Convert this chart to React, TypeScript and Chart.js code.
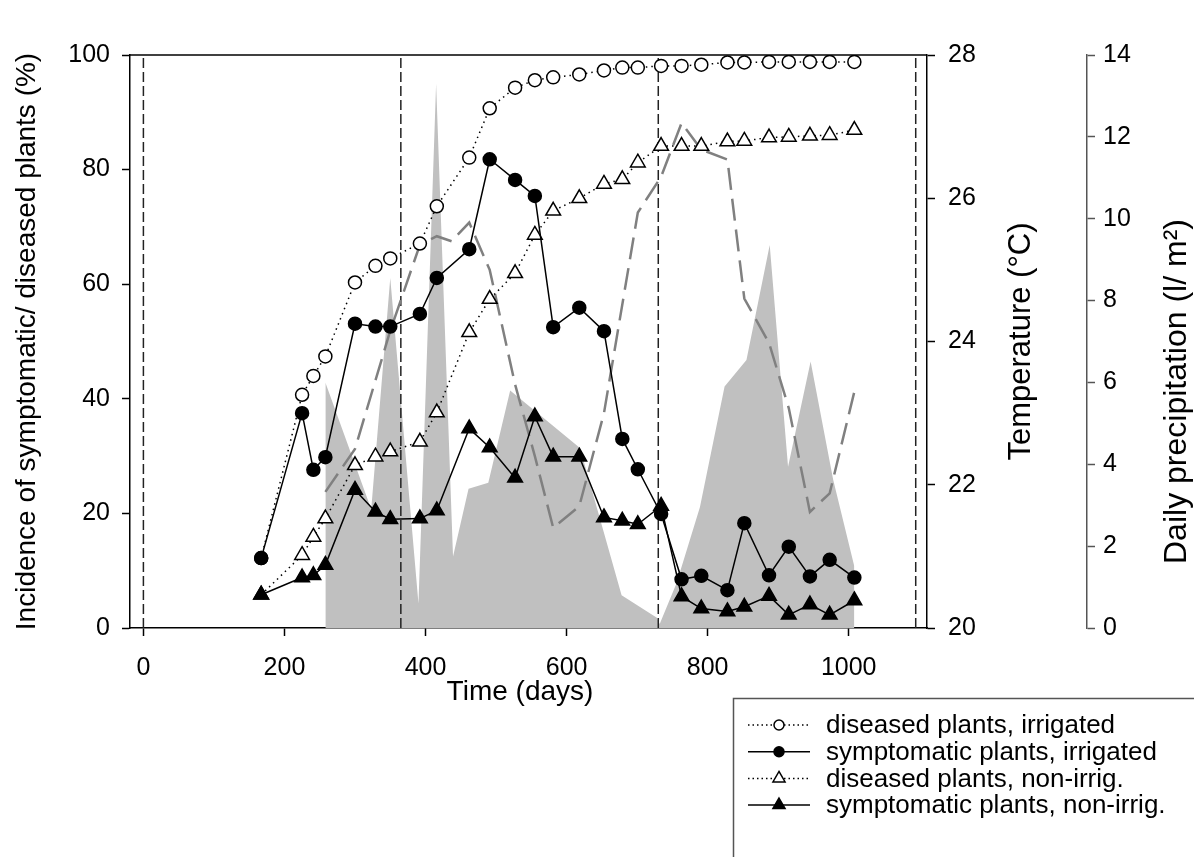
import React, { useEffect, useRef } from 'react';
import { Chart, registerables } from 'chart.js';

Chart.register(...registerables);

const FONT = '"Liberation Sans", Arial, Helvetica, sans-serif';

// ---- data ----
const sampleDays = [167, 225, 241, 258, 300, 329, 350, 392, 416, 462, 491, 527, 555, 581, 618, 653, 679, 701, 734, 763, 791, 828, 852, 887, 915, 945, 973, 1008];
const diseasedIrrigated = [12.2, 40.7, 44.0, 47.4, 60.3, 63.2, 64.5, 67.1, 73.6, 82.1, 90.7, 94.3, 95.6, 96.1, 96.6, 97.3, 97.8, 97.8, 98.1, 98.1, 98.3, 98.7, 98.7, 98.8, 98.8, 98.8, 98.8, 98.8];
const symptomaticIrrigated = [12.2, 37.5, 27.6, 29.8, 53.1, 52.6, 52.6, 54.8, 61.1, 66.1, 81.8, 78.2, 75.4, 52.5, 55.9, 51.8, 33.0, 27.7, 19.9, 8.5, 9.1, 6.6, 18.3, 9.2, 14.2, 9.0, 11.9, 8.8];
const diseasedNonIrrigated = [5.8, 12.7, 15.9, 19.1, 28.4, 29.9, 30.8, 32.5, 37.6, 51.6, 57.4, 61.9, 68.6, 72.8, 75.0, 77.5, 78.3, 81.2, 84.1, 84.1, 84.1, 84.9, 85.0, 85.6, 85.7, 85.9, 86.0, 86.9];
const symptomaticNonIrrigated = [5.8, 8.8, 9.2, 11.0, 24.1, 20.3, 19.0, 19.1, 20.5, 34.8, 31.5, 26.2, 36.9, 29.9, 29.9, 19.3, 18.7, 18.1, 21.3, 5.5, 3.4, 2.9, 3.7, 5.6, 2.3, 4.1, 2.3, 4.8];

const temperatureDays = [258, 300, 350, 392, 416, 437, 462, 491, 527, 555, 581, 618, 653, 701, 734, 763, 791, 828, 852, 887, 915, 945, 973, 1008];
const temperatureValues = [21.9, 22.5, 24.15, 25.35, 25.47, 25.4, 25.66, 25.0, 23.4, 22.4, 21.4, 21.7, 23.0, 25.8, 26.3, 27.05, 26.68, 26.54, 24.6, 23.98, 23.07, 21.62, 21.88, 23.3];

const precipitationDays = [258, 258, 323, 350, 390, 415, 439, 461, 489, 520, 619, 678, 728, 732, 756, 789, 824, 855, 888, 914, 946, 978, 1008, 1008];
const precipitationValues = [0, 6.0, 2.9, 8.55, 0.6, 13.3, 1.75, 3.4, 3.55, 5.8, 4.4, 0.8, 0.25, 0.1, 1.1, 2.95, 5.9, 6.55, 9.36, 3.94, 6.51, 3.62, 1.5, 0];

const yearMarks = [0, 365, 730, 1095];

const xTicks = [0, 200, 400, 600, 800, 1000];
const incidenceTicks = [0, 20, 40, 60, 80, 100];
const temperatureTicks = [20, 22, 24, 26, 28];
const precipitationTicks = [0, 2, 4, 6, 8, 10, 12, 14];

const legendLabels = [
  'diseased plants, irrigated',
  'symptomatic plants, irrigated',
  'diseased plants, non-irrig.',
  'symptomatic plants, non-irrig.',
];

const pts = (xs: number[], ys: number[]) => xs.map((x, i) => ({ x, y: ys[i] }));

const overlayPlugin = {
  id: 'overlay',
  afterDraw(chart: any) {
    const { ctx, chartArea } = chart;
    ctx.save();
    // top frame line
    ctx.strokeStyle = '#000';
    ctx.lineWidth = 1.5;
    ctx.setLineDash([]);
    ctx.beginPath();
    ctx.moveTo(chartArea.left, chartArea.top);
    ctx.lineTo(chartArea.right, chartArea.top);
    ctx.stroke();

    // axis titles
    ctx.fillStyle = '#000';
    ctx.textAlign = 'center';
    ctx.textBaseline = 'middle';
    ctx.font = `28px ${FONT}`;
    ctx.fillText('Time (days)', 520, 692);

    const yMid = (chartArea.top + chartArea.bottom) / 2;
    ctx.save();
    ctx.font = `31px ${FONT}`;
    ctx.translate(1021, yMid);
    ctx.rotate(-Math.PI / 2);
    ctx.fillText('Temperature (°C)', 0, 0);
    ctx.restore();

    ctx.save();
    ctx.font = `32px ${FONT}`;
    ctx.translate(1177, yMid + 50);
    ctx.rotate(-Math.PI / 2);
    ctx.fillText('Daily precipitation (l/ m²)', 0, 0);
    ctx.restore();

    // legend
    const lx = 733.5, ly = 698.5;
    ctx.strokeStyle = '#555';
    ctx.lineWidth = 1.5;
    ctx.strokeRect(lx, ly, 480, 200);
    const styles = [
      { dash: [1.5, 3], tri: false, fill: '#fff' },
      { dash: [], tri: false, fill: '#000' },
      { dash: [1.5, 3], tri: true, fill: '#fff' },
      { dash: [], tri: true, fill: '#000' },
    ];
    ctx.font = `26px ${FONT}`;
    ctx.textAlign = 'left';
    for (let i = 0; i < 4; i++) {
      const y = 725 + i * 26.7;
      const s = styles[i];
      ctx.strokeStyle = '#000';
      ctx.lineWidth = 1.5;
      ctx.setLineDash(s.dash);
      ctx.beginPath();
      ctx.moveTo(748, y);
      ctx.lineTo(810, y);
      ctx.stroke();
      ctx.setLineDash([]);
      ctx.beginPath();
      if (s.tri) {
        const r = 7;
        ctx.moveTo(779, y - r);
        ctx.lineTo(779 + r * 0.866, y + r * 0.5);
        ctx.lineTo(779 - r * 0.866, y + r * 0.5);
        ctx.closePath();
      } else {
        ctx.arc(779, y, 5, 0, Math.PI * 2);
      }
      ctx.fillStyle = s.fill;
      ctx.fill();
      ctx.stroke();
      ctx.fillStyle = '#000';
      ctx.fillText(legendLabels[i], 826, y + 1);
    }
    ctx.restore();
  },
};

export default function App() {
  const canvasRef = useRef<HTMLCanvasElement | null>(null);

  useEffect(() => {
    const canvas = canvasRef.current;
    if (!canvas) return;

    const series = (ys: number[], tri: boolean, filled: boolean, dotted: boolean, order: number) => ({
      type: 'line',
      data: pts(sampleDays, ys),
      yAxisID: 'y',
      borderColor: '#000',
      borderWidth: 1.5,
      borderDash: dotted ? [1.5, 4] : [],
      pointStyle: tri ? 'triangle' : 'circle',
      pointRadius: tri ? 8.5 : 6.5,
      pointBorderWidth: 1.5,
      pointBorderColor: '#000',
      pointBackgroundColor: filled ? '#000' : '#fff',
      fill: false,
      tension: 0,
      order,
    });

    const yearDatasets = yearMarks.map((d) => ({
      type: 'line',
      data: [{ x: d, y: 0 }, { x: d, y: 100 }],
      yAxisID: 'y',
      borderColor: '#222',
      borderWidth: 1.5,
      borderDash: [10, 4],
      pointRadius: 0,
      fill: false,
      order: 8,
    }));

    const tickFont = { size: 25, family: FONT };
    const plain = (v: any) => String(v);

    const chart = new Chart(canvas, {
      type: 'line',
      data: {
        datasets: [
          series(symptomaticIrrigated, false, true, false, 1),
          series(diseasedIrrigated, false, false, true, 2),
          series(symptomaticNonIrrigated, true, true, false, 3),
          series(diseasedNonIrrigated, true, false, true, 4),
          {
            type: 'line',
            data: pts(temperatureDays, temperatureValues),
            yAxisID: 'yT',
            borderColor: '#808080',
            borderWidth: 2.5,
            borderDash: [22, 9],
            pointRadius: 0,
            fill: false,
            tension: 0,
            order: 6,
          },
          ...yearDatasets,
          {
            type: 'line',
            data: pts(precipitationDays, precipitationValues),
            yAxisID: 'yP',
            borderColor: 'rgba(0,0,0,0)',
            borderWidth: 0,
            backgroundColor: '#c0c0c0',
            pointRadius: 0,
            fill: 'origin',
            tension: 0,
            order: 10,
          },
        ] as any,
      },
      options: {
        responsive: false,
        animation: false,
        events: [],
        layout: { padding: { top: 55, left: 0, right: 0, bottom: 169 } },
        plugins: { legend: { display: false }, tooltip: { enabled: false } },
        scales: {
          x: {
            type: 'linear',
            min: -19,
            max: 1111,
            afterBuildTicks: (s: any) => { s.ticks = xTicks.map((v) => ({ value: v })); },
            afterFit: (s: any) => { s.height = 60; },
            grid: { display: true, drawOnChartArea: false, tickLength: 8, tickWidth: 1.5, tickColor: '#000' },
            border: { display: true, color: '#000', width: 1.5 },
            ticks: { color: '#000', font: tickFont, padding: 17, maxRotation: 0, autoSkip: false, callback: plain },
          },
          y: {
            type: 'linear',
            position: 'left',
            min: 0,
            max: 100,
            afterBuildTicks: (s: any) => { s.ticks = incidenceTicks.map((v) => ({ value: v })); },
            afterFit: (s: any) => { s.width = 130; },
            grid: { display: true, drawOnChartArea: false, tickLength: 8, tickWidth: 1.5, tickColor: '#000' },
            border: { display: true, color: '#000', width: 1.5 },
            ticks: { color: '#000', font: tickFont, padding: 12, callback: plain },
            title: {
              display: true,
              text: 'Incidence of symptomatic/ diseased plants (%)',
              color: '#000',
              font: { size: 28, family: FONT },
              padding: { top: 10, bottom: 0 },
            },
          },
          yT: {
            type: 'linear',
            position: 'right',
            weight: 1,
            min: 20,
            max: 28,
            afterBuildTicks: (s: any) => { s.ticks = temperatureTicks.map((v) => ({ value: v })); },
            afterFit: (s: any) => { s.width = 160; },
            grid: { display: true, drawOnChartArea: false, tickLength: 8, tickWidth: 1.5, tickColor: '#000' },
            border: { display: true, color: '#000', width: 1.5 },
            ticks: { color: '#000', font: tickFont, padding: 13, callback: plain },
          },
          yP: {
            type: 'linear',
            position: 'right',
            weight: 2,
            min: 0,
            max: 14,
            afterBuildTicks: (s: any) => { s.ticks = precipitationTicks.map((v) => ({ value: v })); },
            afterFit: (s: any) => { s.width = 107; },
            grid: { display: true, drawOnChartArea: false, tickLength: 8, tickWidth: 1.5, tickColor: '#555' },
            border: { display: true, color: '#555', width: 1.5 },
            ticks: { color: '#000', font: tickFont, padding: 8, callback: plain },
          },
        },
      } as any,
      plugins: [overlayPlugin],
    });

    return () => chart.destroy();
  }, []);

  return (
    <div style={{ position: 'absolute', left: 0, top: 0, width: 1194, height: 857, overflow: 'hidden', background: '#fff' }}>
      <canvas ref={canvasRef} width={1194} height={857} style={{ width: 1194, height: 857, display: 'block' }} />
    </div>
  );
}
